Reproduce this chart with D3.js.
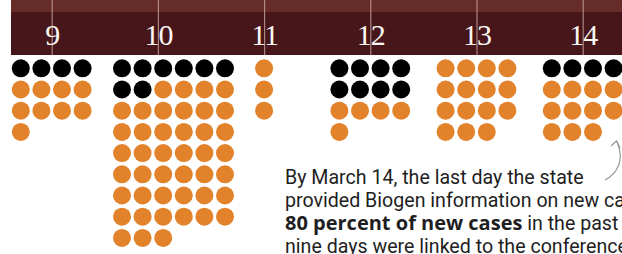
<!DOCTYPE html>
<html>
<head>
<meta charset="utf-8">
<script src="https://cdn.jsdelivr.net/npm/d3@7"></script>
<style>
  body { margin: 0; background: #fff; }
  svg { display: block; }
</style>
</head>
<body>
<div id="chart"></div>
<script>
// March days and the cases reported on each
const days = [9, 10, 11, 12, 13, 14];
const biogenCases = [4, 8, 0, 8, 0, 4];   // black dots
const otherCases = [9, 43, 3, 5, 15, 11]; // orange dots
const columns = [4, 6, 1, 4, 4, 4];

const noteLines = [
  [{t: "By March 14, the last day the state", b: false}],
  [{t: "provided Biogen information on new cases,", b: false}],
  [{t: "80 percent of new cases", b: true}, {t: " in the past", b: false}],
  [{t: "nine days were linked to the conference.", b: false}]
];

const w = 622;
const h = 254;
const bandTop = 12;
const bandBottom = 55;
const xPitch = 20.6;
const yPitch = 21.2;
const r = 9;

const svg = d3.select("#chart")
  .append("svg")
    .attr("width", w)
    .attr("height", h);

// header bands
svg.append("rect")
    .attr("x", 11).attr("y", 0)
    .attr("width", w - 11).attr("height", bandTop)
    .attr("fill", "#652c28");
svg.append("rect")
    .attr("x", 11).attr("y", bandTop)
    .attr("width", w - 11).attr("height", bandBottom - bandTop)
    .attr("fill", "#46161a");

const x = d3.scaleLinear()
    .domain([9, 14])
    .range([51.7, 582.7]);

const row = d3.scaleLinear()
    .domain([0, 1])
    .range([68.3, 68.3 + yPitch]);

const xAxis = d3.axisTop(x)
    .tickValues(days)
    .tickSize(bandBottom)
    .tickPadding(-45)
    .tickFormat(d3.format("d"));

const axisG = svg.append("g")
    .attr("transform", `translate(0, ${bandBottom})`)
    .call(xAxis);

axisG.select(".domain").remove();
axisG.selectAll(".tick line")
    .attr("stroke", "#c9a9a6")
    .attr("stroke-opacity", 0.75)
    .attr("stroke-width", 1.2);
axisG.selectAll(".tick text")
    .attr("fill", "#fbf6f2")
    .attr("font-family", "'Liberation Serif', serif")
    .attr("font-size", 30)
    .attr("letter-spacing", -1);

// dots
const dots = [];
days.forEach((day, g) => {
  const total = biogenCases[g] + otherCases[g];
  const cols = columns[g];
  const start = x(day) - (Math.min(cols, 4) - 1) * xPitch / 2 - (cols > 4 ? 5 : 0);
  for (let i = 0; i < total; i++) {
    dots.push({
      cx: start + (i % cols) * xPitch,
      cy: row(Math.floor(i / cols)),
      biogen: i < biogenCases[g]
    });
  }
});

svg.append("g")
  .selectAll("circle")
  .data(dots)
  .enter().append("circle")
    .attr("cx", d => d.cx)
    .attr("cy", d => d.cy)
    .attr("r", r)
    .attr("fill", d => d.biogen ? "#000" : "#e2822a");

// annotation
const note = svg.append("text")
    .attr("font-family", "Roboto, sans-serif")
    .attr("font-size", 19.6)
    .attr("fill", "#1e1e1e");

noteLines.forEach((line, i) => {
  const tl = note.append("tspan")
      .attr("x", 285)
      .attr("y", 184 + i * 23);
  line.forEach(part => {
    const s = tl.append("tspan")
        .attr("font-weight", part.b ? 700 : 400)
        .text(part.t);
    if (part.b) s.attr("font-family", "'Open Sans', sans-serif").attr("font-size", 20);
  });
});

// arrow
svg.append("path")
    .attr("d", "M605,180 C617,174 625,160 617,142")
    .attr("fill", "none")
    .attr("stroke", "#999")
    .attr("stroke-width", 1.2);
svg.append("path")
    .attr("d", "M611,146 L616.5,141 L620,147.5")
    .attr("fill", "none")
    .attr("stroke", "#999")
    .attr("stroke-width", 1.2);
</script>
</body>
</html>
